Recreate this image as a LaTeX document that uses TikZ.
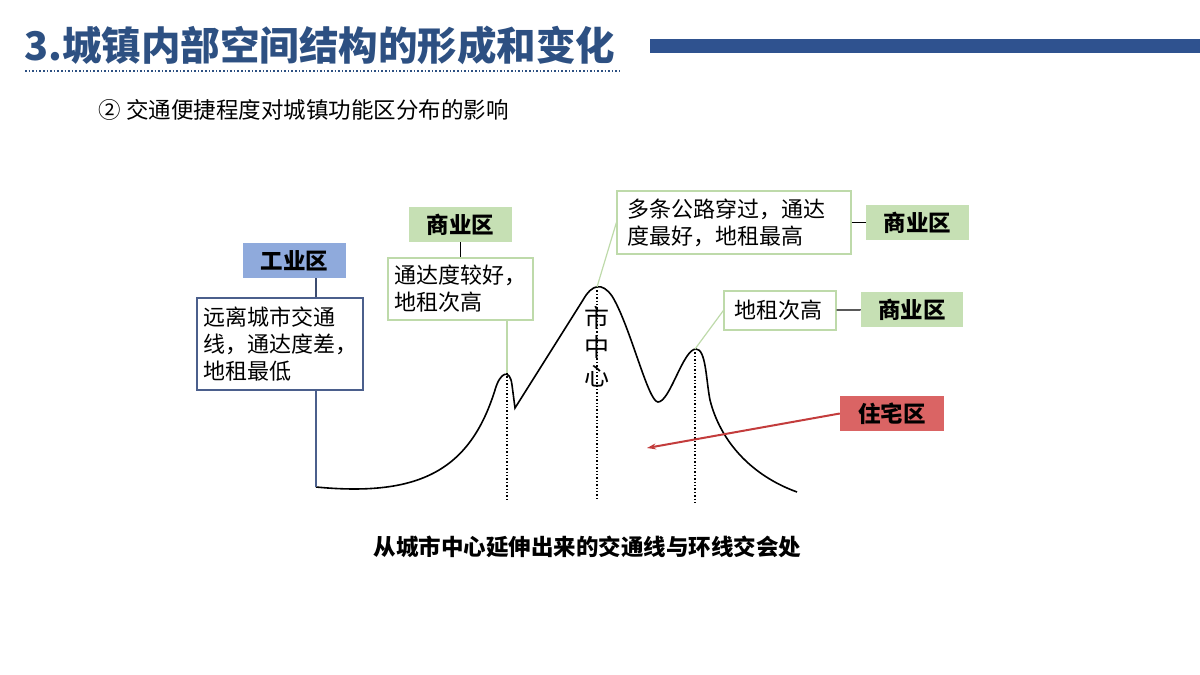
\documentclass[tikz,border=0pt]{standalone}
\usepackage{fontspec}
\setmainfont{Noto Sans CJK SC}
\usepackage{xcolor}
\definecolor{ttlblue}{RGB}{45,80,130}
\definecolor{barblue}{RGB}{47,82,143}
\definecolor{indblue}{RGB}{143,170,220}
\definecolor{edgeblue}{RGB}{75,95,140}
\definecolor{comgreen}{RGB}{198,224,180}
\definecolor{edgegreen}{RGB}{190,218,170}
\definecolor{resred}{RGB}{218,100,100}
\definecolor{arrred}{RGB}{195,60,60}
\usetikzlibrary{arrows.meta,calc}

\begin{document}
\begin{tikzpicture}[x=1pt, y=-1pt,
  tag/.style={inner sep=0pt, minimum height=35pt, minimum width=103pt, font=\fontsize{22.5}{25}\selectfont\bfseries},
  note/.style={draw=edgegreen, line width=1.2pt, fill=white, align=left, inner ysep=6pt, font=\fontsize{22}{27}\selectfont},
  link/.style={line width=1.2pt}]
  \useasboundingbox (0,0) rectangle (1200,675);

  % Title and header bar
  \node[anchor=west, text=ttlblue, font=\fontsize{39.5}{42}\selectfont\bfseries] (title) at (21,45) {3.城镇内部空间结构的形成和变化};
  \draw[ttlblue, line width=1.6pt, dotted] (25,71) -- (620,71);
  \fill[barblue] (650,39) rectangle (1200,53);
  \node[anchor=west, font=\fontsize{22.5}{26}\selectfont] (subtitle) at (95,110) {② 交通便捷程度对城镇功能区分布的影响};

  % Peaks of the rent curve
  \coordinate (base) at (316,487);
  \coordinate (peakA) at (507,373);
  \coordinate (peakB) at (597,287);
  \coordinate (peakC) at (695,349);
  \coordinate (resident) at (647,448);

  % Rent curve
  \draw[line width=1.6pt] (base) .. controls (420,497) and (470,470) .. (495,390)
    .. controls (500,372) and (510,368) .. (512,385) -- (515,408) -- (583,300)
    .. controls (592,284) and (602,282) .. (612,296)
    .. controls (630,325) and (648,402) .. (658,402)
    .. controls (670,402) and (683,349) .. (696,349)
    .. controls (706,349) and (706,380) .. (710,400)
    .. controls (720,440) and (750,475) .. (797,492);

  % Traffic lines
  \draw[line width=1.4pt, dotted] (peakA) -- ++(0,127);
  \draw[line width=1.4pt, dotted] (peakB) -- ++(0,213);
  \draw[line width=1.4pt, dotted] (peakC) -- ++(0,156);
  \node[align=center, font=\fontsize{25}{29}\selectfont] (centre) at (597,347) {市\\中\\心};

  % Industrial zone
  \node[tag, fill=indblue] (ind) at (294.5,260.5) {工业区};
  \node[note, draw=edgeblue, text width=154pt, inner xsep=6pt, minimum height=92pt] (farnote) at (280,344) {远离城市交通\\线，通达度差，\\地租最低};
  \draw[link, edgeblue!80!black] (ind.south -| base) -- (farnote.north -| base);
  \draw[link, edgeblue] (farnote.south -| base) -- (base);

  % Commercial zones
  \node[tag, fill=comgreen] (comA) at (460.5,224.5) {商业区};
  \node[note, text width=132pt, inner xsep=6.5pt, minimum height=62pt] (noteA) at (460.5,289) {通达度较好，\\地租次高};
  \draw[link] (comA) -- (noteA);
  \draw[link, edgegreen] (noteA.south -| peakA) -- (peakA);

  \node[note, text width=214pt, inner xsep=10pt, minimum height=63pt] (noteB) at (734,222.5) {多条公路穿过，通达\\度最好，地租最高};
  \node[tag, fill=comgreen] (comB) at (917.5,222.5) {商业区};
  \draw[link] (noteB) -- (comB);
  \draw[link, edgegreen] (peakB) -- (noteB.west);

  \node[note, text width=92pt, inner xsep=10pt, minimum height=39pt, inner ysep=3pt] (noteC) at (780,310.5) {地租次高};
  \node[tag, fill=comgreen, minimum width=102pt] (comC) at (912,309.5) {商业区};
  \draw[link] (noteC) -- (comC);
  \draw[link, edgegreen] (peakC) -- (noteC.west);

  % Residential zone
  \node[tag, fill=resred, minimum width=104pt] (res) at (892,413.5) {住宅区};
  \draw[-{Stealth[length=9pt, width=6pt]}, arrred, line width=2pt] (res.west) -- (resident);

  % Caption
  \node[font=\fontsize{22.5}{25}\selectfont\bfseries] (caption) at (587.5,547) {从城市中心延伸出来的交通线与环线交会处};
\end{tikzpicture}
\end{document}
